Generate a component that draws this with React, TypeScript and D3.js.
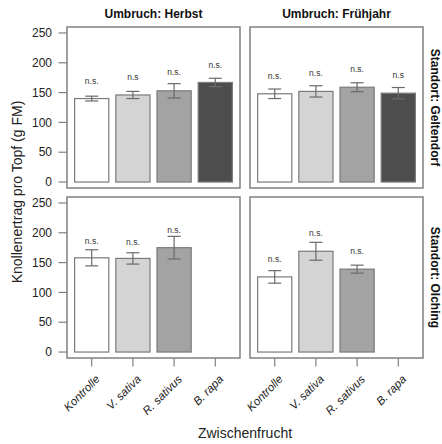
import React from 'react';
import * as d3 from 'd3';

// categories and panel meta
const categories = ['Kontrolle', 'V. sativa', 'R. sativus', 'B. rapa'];
const umbruch = ['Umbruch: Herbst', 'Umbruch: Frühjahr'];
const standort = ['Standort: Geltendorf', 'Standort: Olching'];
const yTicks = [0, 50, 100, 150, 200, 250];
const barFills = ['#ffffff', '#d4d4d4', '#a3a3a3', '#4d4d4d'];

// Geltendorf
const geltHerbstMean = [140, 146, 153, 167];
const geltHerbstErr = [4, 6, 12, 7];
const geltHerbstSig = ['n.s.', 'n.s', 'n.s.', 'n.s.'];
const geltHerbstSigY = [170, 176, 184, 196];

const geltFruehMean = [148, 152, 159, 149];
const geltFruehErr = [8, 9.5, 7.5, 9.5];
const geltFruehSig = ['n.s.', 'n.s.', 'n.s.', 'n.s'];
const geltFruehSigY = [178, 183, 189, 179];

// Olching (no B. rapa)
const olchHerbstMean = [158, 157, 175, null];
const olchHerbstErr = [13.5, 9.5, 19, null];
const olchHerbstSig = ['n.s.', 'n.s.', 'n.s.', null];
const olchHerbstSigY = [186, 185, 204, null];

const olchFruehMean = [126, 169, 139, null];
const olchFruehErr = [10.5, 15, 6.7, null];
const olchFruehSig = ['n.s.', 'n.s.', 'n.s.', null];
const olchFruehSigY = [156, 199, 169, null];

const panels = [
  { row: 0, col: 0, mean: geltHerbstMean, err: geltHerbstErr, sig: geltHerbstSig, sigY: geltHerbstSigY },
  { row: 0, col: 1, mean: geltFruehMean, err: geltFruehErr, sig: geltFruehSig, sigY: geltFruehSigY },
  { row: 1, col: 0, mean: olchHerbstMean, err: olchHerbstErr, sig: olchHerbstSig, sigY: olchHerbstSigY },
  { row: 1, col: 1, mean: olchFruehMean, err: olchFruehErr, sig: olchFruehSig, sigY: olchFruehSigY },
];

const colX = [[67, 240], [250, 423]];
const rowY = [[27, 188], [197, 358]];
const font = 'Liberation Sans, Arial, sans-serif';
const gray = '#808080';

export default function App() {
  return (
    <svg width={442} height={444} style={{ position: 'absolute', left: 0, top: 0 }} fontFamily={font}>
      <rect width={442} height={444} fill="#fff" />
      {panels.map((p, pi) => {
        const [x0, x1] = colX[p.col];
        const [y0, y1] = rowY[p.row];
        const x = d3.scalePoint<string>().domain(categories).range([x0, x1]).padding(0.6);
        const y = d3.scaleLinear().domain([-10, 260]).range([y1, y0]);
        const bw = x.step() * 0.83;
        return (
          <g key={pi}>
            {categories.map((c, i) => {
              const m = p.mean[i];
              if (m == null) return null;
              const e = p.err[i] as number;
              const cx = x(c) as number;
              return (
                <g key={c}>
                  <rect x={cx - bw / 2} y={y(m)} width={bw} height={y(0) - y(m)}
                    fill={barFills[i]} stroke="#7a7a7a" strokeWidth={1.2} />
                  <line x1={cx} x2={cx} y1={y(m - e)} y2={y(m + e)} stroke="#6a6a6a" strokeWidth={1.2} />
                  <line x1={cx - 6.5} x2={cx + 6.5} y1={y(m + e)} y2={y(m + e)} stroke="#6a6a6a" strokeWidth={1.2} />
                  <line x1={cx - 6.5} x2={cx + 6.5} y1={y(m - e)} y2={y(m - e)} stroke="#6a6a6a" strokeWidth={1.2} />
                  <text x={cx} y={y(p.sigY[i] as number)} dy="0.35em" textAnchor="middle"
                    fontSize={8.5} fill="#333">{p.sig[i]}</text>
                </g>
              );
            })}
            <rect x={x0} y={y0} width={x1 - x0} height={y1 - y0} fill="none" stroke={gray} strokeWidth={1.5} />
            {p.col === 0 && yTicks.map(t => (
              <g key={t}>
                <line x1={x0 - 8.5} x2={x0} y1={y(t)} y2={y(t)} stroke={gray} strokeWidth={1.2} />
                <text x={x0 - 15} y={y(t)} dy="0.35em" textAnchor="end" fontSize={12} fill="#222">{t}</text>
              </g>
            ))}
            {p.row === 1 && categories.map(c => {
              const cx = x(c) as number;
              return (
                <g key={c}>
                  <line x1={cx} x2={cx} y1={y1} y2={y1 + 8.5} stroke={gray} strokeWidth={1.2} />
                  <text transform={`translate(${cx + 6},${y1 + 19}) rotate(-45)`} textAnchor="end"
                    dy="0.35em" fontSize={11.5} fontStyle="italic" fill="#222">{c}</text>
                </g>
              );
            })}
          </g>
        );
      })}
      {umbruch.map((u, i) => (
        <text key={u} x={(colX[i][0] + colX[i][1]) / 2} y={14} dy="0.35em" textAnchor="middle"
          fontSize={12} fontWeight="bold" fill="#111">{u}</text>
      ))}
      {standort.map((s, i) => (
        <text key={s} transform={`translate(435,${(rowY[i][0] + rowY[i][1]) / 2}) rotate(90)`}
          textAnchor="middle" dy="0.35em" fontSize={12} fontWeight="bold" fill="#111">{s}</text>
      ))}
      <text transform="translate(17,192) rotate(-90)" textAnchor="middle" dy="0.35em" fontSize={14} fill="#222">
        Knollenertrag pro Topf (g FM)
      </text>
      <text x={245} y={433} dy="0.35em" textAnchor="middle" fontSize={14} fill="#222">Zwischenfrucht</text>
    </svg>
  );
}
